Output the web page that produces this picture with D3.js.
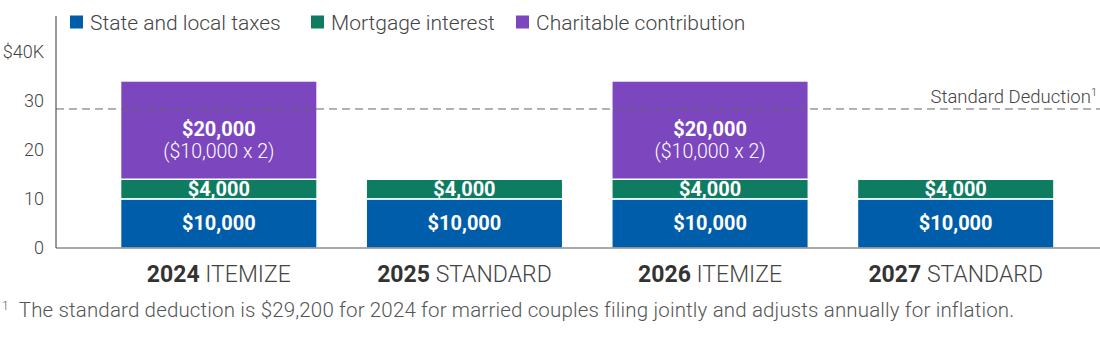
<!DOCTYPE html>
<html><head><meta charset="utf-8">
<script src="https://cdn.jsdelivr.net/npm/d3@7"></script>
<style>body{margin:0;background:#fff;font-family:Roboto,"Noto Sans",sans-serif;}</style>
</head><body><svg id="c" width="1100" height="337"></svg>
<script>
const years = ["2024", "2025", "2026", "2027"];
const modes = ["ITEMIZE", "STANDARD", "ITEMIZE", "STANDARD"];
const seriesNames = ["State and local taxes", "Mortgage interest", "Charitable contribution"];
const stateLocal = [10000, 10000, 10000, 10000];
const mortgage = [4000, 4000, 4000, 4000];
const charitable = [20000, 0, 20000, 0];
const charitableNote = ["($10,000 x 2)", "", "($10,000 x 2)", ""];
const yTicks = [0, 10000, 20000, 30000, 40000];
const yTickLabels = ["0", "10", "20", "30", "$40K"];
const standardDeductionLine = 28300;
const colors = ["#005DAA", "#0E7C61", "#7B46BE"];

const svg = d3.select("#c");
const y = d3.scaleLinear().domain([0, 40000]).range([248, 51.5]);
const x = d3.scaleBand().domain(years).range([96, 1078.5]).paddingInner(0.2).paddingOuter(0.1);

const rows = years.map((yr, i) => ({yr, vals: [stateLocal[i], mortgage[i], charitable[i]]}));
const stack = d3.stack().keys([0, 1, 2]).value((d, k) => d.vals[k]);
const layers = stack(rows);

// bars
layers.forEach((layer, k) => {
  svg.append("g").selectAll("rect").data(layer.filter(d => d[1] > d[0])).join("rect")
    .attr("x", d => x(d.data.yr))
    .attr("width", x.bandwidth())
    .attr("y", d => y(d[1]))
    .attr("height", d => y(d[0]) - y(d[1]))
    .attr("fill", colors[k])
    .attr("stroke", "#fff").attr("stroke-width", 1.5);
});

// standard deduction dashed line
svg.append("line").attr("x1", 56).attr("x2", 1100)
  .attr("y1", y(standardDeductionLine)).attr("y2", y(standardDeductionLine))
  .attr("stroke", "#666").attr("stroke-width", 1).attr("stroke-dasharray", "8,5");
const sd = svg.append("text").attr("x", 1097).attr("y", y(standardDeductionLine) - 6)
  .attr("text-anchor", "end").attr("fill", "#444").attr("font-size", 18.5).attr("font-weight", 300);
sd.append("tspan").text("Standard Deduction");
sd.append("tspan").text("1").attr("font-size", 11).attr("dy", -7);

// bar labels
const fmt = d3.format("$,");
layers.forEach((layer, k) => {
  layer.forEach((d, i) => {
    if (d[1] <= d[0]) return;
    const cx = x(d.data.yr) + x.bandwidth() / 2;
    const mid = (y(d[0]) + y(d[1])) / 2;
    if (k === 2) {
      svg.append("text").attr("x", cx).attr("y", mid + 6).attr("text-anchor", "middle")
        .attr("fill", "#fff").attr("font-size", 20).attr("font-weight", "bold").text(fmt(d.data.vals[k]));
      svg.append("text").attr("x", cx).attr("y", mid + 28).attr("text-anchor", "middle")
        .attr("fill", "#fff").attr("font-size", 19.5).attr("font-weight", 300).text(charitableNote[i]);
    } else {
      svg.append("text").attr("x", cx).attr("y", mid + 7).attr("text-anchor", "middle")
        .attr("fill", "#fff").attr("font-size", 20).attr("font-weight", "bold").text(fmt(d.data.vals[k]));
    }
  });
});

// axes
svg.append("line").attr("x1", 56).attr("x2", 56).attr("y1", 16).attr("y2", 248)
  .attr("stroke", "#555").attr("stroke-width", 1.2);
svg.append("line").attr("x1", 56).attr("x2", 1100).attr("y1", 248).attr("y2", 248)
  .attr("stroke", "#555").attr("stroke-width", 1.2);
svg.append("g").selectAll("text").data(yTicks).join("text")
  .attr("x", 44).attr("y", d => y(d) + 6).attr("text-anchor", "end")
  .attr("fill", "#444").attr("font-size", 18).attr("font-weight", 300).text((d, i) => yTickLabels[i]);

// x labels
years.forEach((yr, i) => {
  const t = svg.append("text").attr("x", x(yr) + x.bandwidth() / 2).attr("y", 282)
    .attr("text-anchor", "middle").attr("font-size", 23).attr("fill", "#333");
  t.append("tspan").attr("font-weight", "bold").text(yr + " ");
  t.append("tspan").attr("fill", "#444").attr("font-weight", 300).text(modes[i]);
});

// legend
const legX = [70, 311, 516];
seriesNames.forEach((n, k) => {
  svg.append("rect").attr("x", legX[k]).attr("y", 15.5).attr("width", 13).attr("height", 13).attr("fill", colors[k]);
  svg.append("text").attr("x", legX[k] + 20).attr("y", 29.5).attr("font-size", 21).attr("font-weight", 300)
    .attr("fill", "#444").text(n);
});

// footnote
const fn = svg.append("text").attr("x", 2).attr("y", 317).attr("font-size", 20.5).attr("font-weight", 300)
  .attr("fill", "#555").attr("letter-spacing", 0.15);
fn.append("tspan").text("1").attr("font-size", 12).attr("dy", -7);
fn.append("tspan").text("The standard deduction is $29,200 for 2024 for married couples filing jointly and adjusts annually for inflation.").attr("dy", 7).attr("dx", 10);
</script></body></html>
